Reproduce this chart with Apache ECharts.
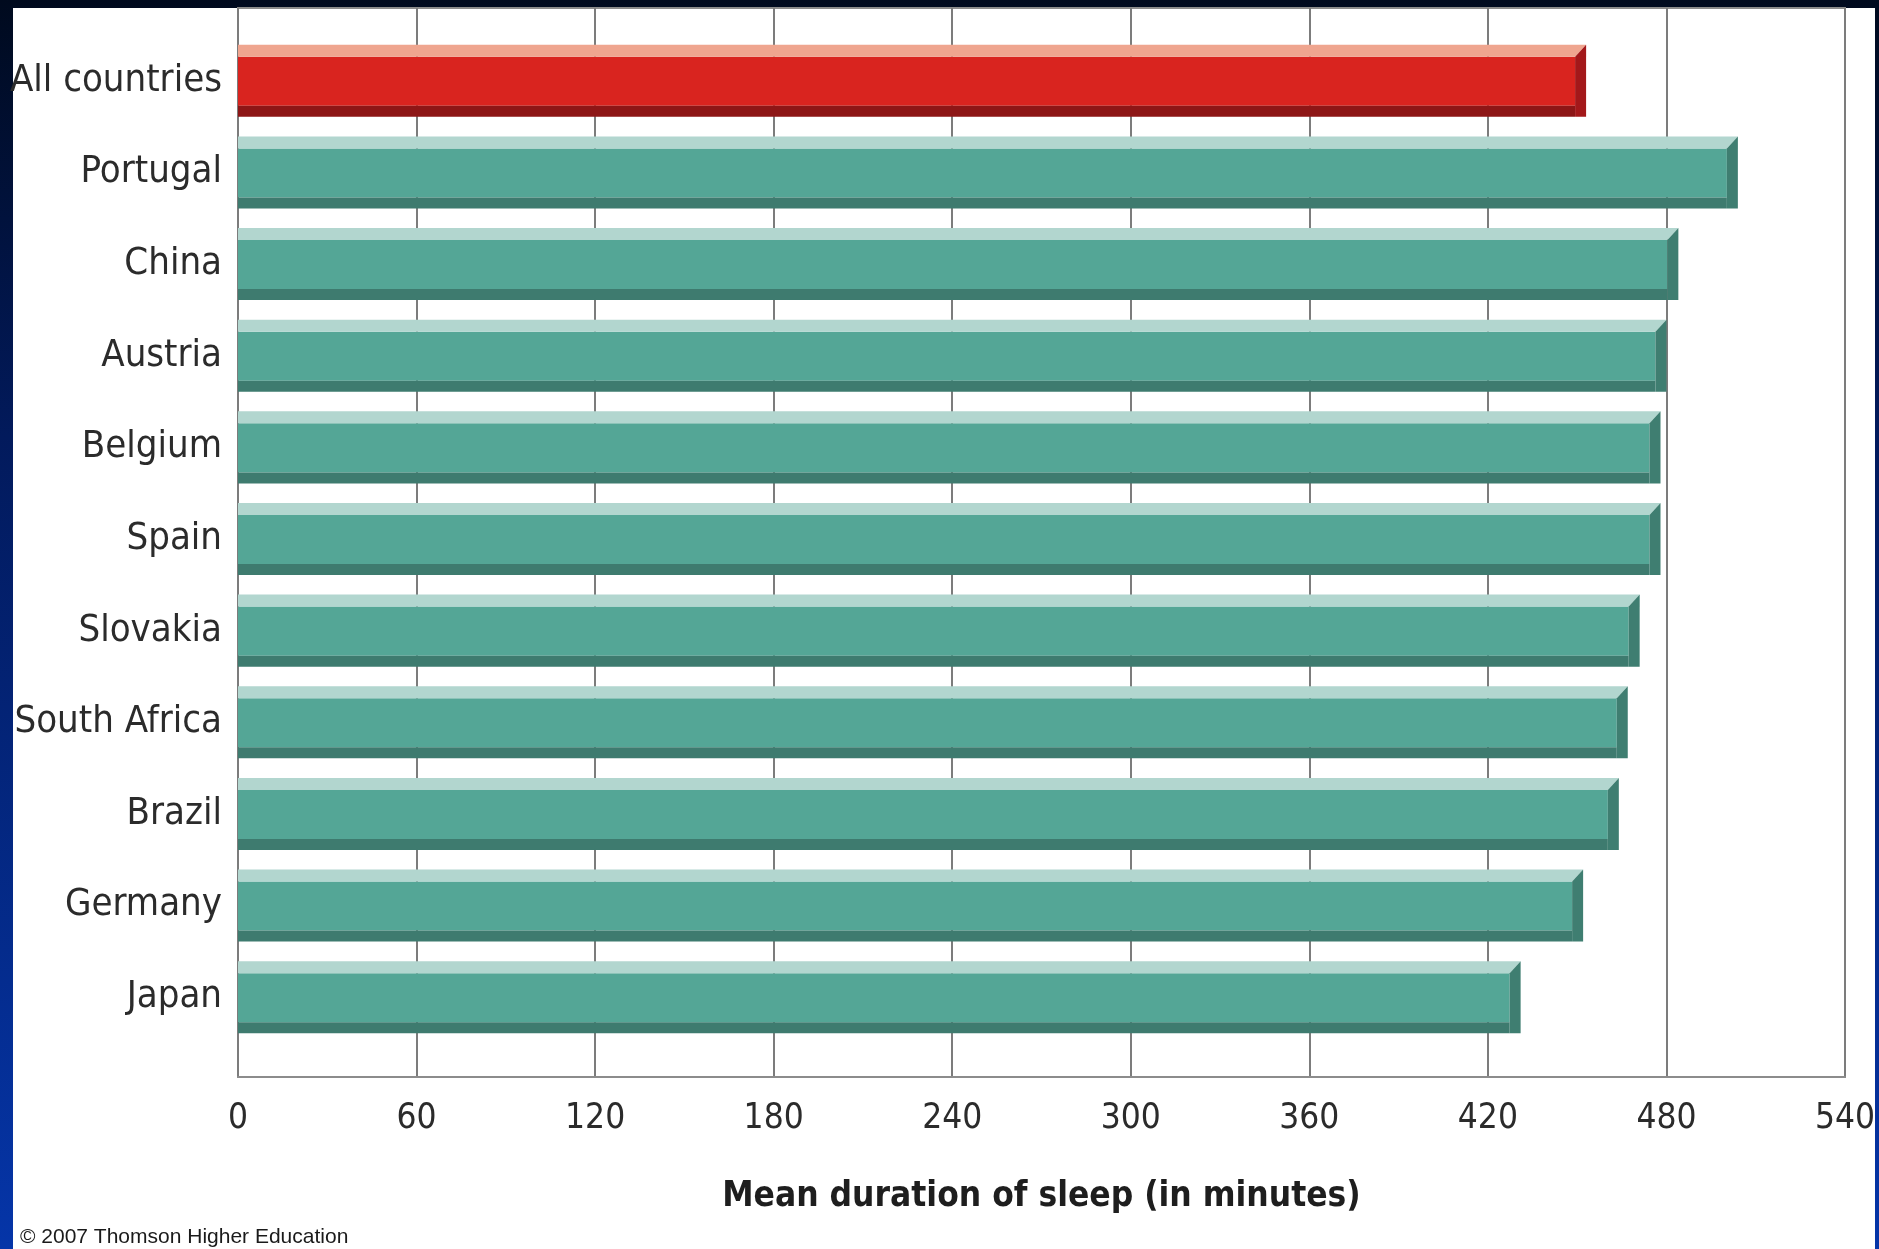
<!DOCTYPE html>
<html>
<head>
<meta charset="utf-8">
<script src="https://cdn.jsdelivr.net/npm/echarts@6/dist/echarts.min.js"></script>
<style>
  html, body { margin: 0; padding: 0; width: 1879px; height: 1249px; overflow: hidden; background: #000a1e; }
  #chart { width: 1879px; height: 1249px; }
</style>
</head>
<body>
<div id="chart"></div>
<script>
// Mean nightly sleep by country, in minutes
const countries = ['All countries', 'Portugal', 'China', 'Austria', 'Belgium', 'Spain',
                   'Slovakia', 'South Africa', 'Brazil', 'Germany', 'Japan'];
const sleepMinutes = [453, 504, 484, 480, 478, 478, 471, 467, 464, 452, 431];
const tickValues = [0, 60, 120, 180, 240, 300, 360, 420, 480, 540];

const LABEL_FONT = '"Liberation Sans Narrow", "DejaVu Sans Condensed", "Liberation Sans", sans-serif';

// Colour sets for the bevelled bars: light top, face, dark bottom, end cap
const RED = { top: '#efa58f', face: '#d9241f', bottom: '#8d1616', cap: '#a3181a' };
const TEAL = { top: '#b2d6cf', face: '#54a696', bottom: '#3e7b6f', cap: '#3f7e71' };

const chart = echarts.init(document.getElementById('chart'), null, { renderer: 'canvas' });

const bgStops = [
  { offset: 0, color: '#000a1e' },
  { offset: 0.35, color: '#021a5c' },
  { offset: 1, color: '#0535a8' }
];

function renderBar(params, api) {
  const idx = api.value(1);
  const end = api.coord([api.value(0), idx]);
  const start = api.coord([0, idx]);
  const band = api.size([0, 1])[1];
  const h = band * 0.786;
  const x0 = start[0];
  const xe = end[0];
  const yTop = end[1] - h / 2;
  const yBot = end[1] + h / 2;
  const th = 12, bh = 11, w = 11;
  const c = idx === 0 ? RED : TEAL;
  return {
    type: 'group',
    children: [
      { type: 'rect', shape: { x: x0, y: yTop + th, width: xe - w - x0, height: h - th - bh },
        style: { fill: c.face } },
      { type: 'polygon', shape: { points: [[x0, yTop], [xe, yTop], [xe - w, yTop + th], [x0, yTop + th]] },
        style: { fill: c.top } },
      { type: 'rect', shape: { x: x0, y: yBot - bh, width: xe - w - x0, height: bh },
        style: { fill: c.bottom } },
      { type: 'polygon', shape: { points: [[xe - w, yTop + th], [xe, yTop], [xe, yBot], [xe - w, yBot]] },
        style: { fill: c.cap } }
    ]
  };
}

const option = {
  backgroundColor: new echarts.graphic.LinearGradient(0, 0, 0, 1, bgStops),
  animation: false,
  graphic: [
    { type: 'rect', z: -100, silent: true,
      shape: { x: 13, y: 8, width: 1862, height: 1241 },
      style: { fill: '#ffffff' } },
    { type: 'rect', z: 100, silent: true,
      shape: { x: 1875, y: 0, width: 4, height: 1249 },
      style: { fill: new echarts.graphic.LinearGradient(0, 0, 0, 1249, bgStops, true) } },
    { type: 'text', left: 20, top: 1227, z: 50,
      style: { text: '\u00a9 2007 Thomson Higher Education', fill: '#1a1a1a',
               font: '21px "Liberation Sans", Arial, sans-serif' } }
  ],
  grid: [
    { left: 238, right: 34, top: 8, bottom: 172, show: true, containLabel: false,
      outerBoundsMode: 'none',
      borderColor: '#8c8c8c', borderWidth: 2, backgroundColor: 'transparent' },
    { left: 238, right: 34, top: 35, height: 1008, containLabel: false, outerBoundsMode: 'none' }
  ],
  xAxis: [
    { type: 'value', gridIndex: 0, min: 0, max: 540, interval: 60,
      axisLine: { show: true, lineStyle: { color: '#8c8c8c', width: 2 } },
      axisTick: { show: false },
      splitLine: { show: true, lineStyle: { color: '#7c7c7c', width: 2 } },
      axisLabel: { margin: 24, color: '#2b2b2b', fontSize: 35, fontFamily: LABEL_FONT,
                   customValues: tickValues,
                   formatter: v => String(v) },
      name: 'Mean duration of sleep (in minutes)',
      nameLocation: 'middle', nameGap: 102,
      nameTextStyle: { color: '#1e1e1e', fontSize: 35, fontWeight: 'bold', fontFamily: LABEL_FONT } },
    { type: 'value', gridIndex: 1, min: 0, max: 540, show: false }
  ],
  yAxis: [
    { type: 'value', gridIndex: 0, show: false, splitLine: { show: false } },
    { type: 'category', gridIndex: 1, inverse: true, data: countries,
      axisLine: { show: false }, axisTick: { show: false }, splitLine: { show: false },
      axisLabel: { margin: 16, color: '#2b2b2b', fontSize: 38, fontFamily: LABEL_FONT } }
  ],
  series: [
    {
      type: 'custom',
      xAxisIndex: 1, yAxisIndex: 1,
      renderItem: renderBar,
      encode: { x: 0, y: 1 },
      data: sleepMinutes.map((v, i) => [v, i]),
      z: 5
    }
  ]
};

chart.setOption(option);
</script>
</body>
</html>
